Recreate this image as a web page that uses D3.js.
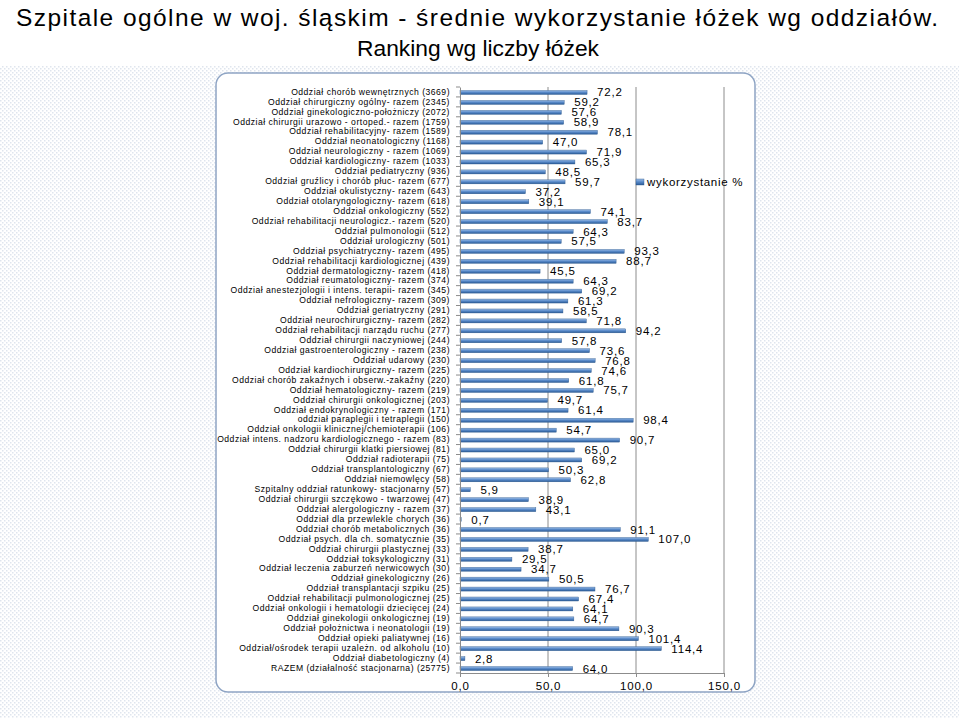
<!DOCTYPE html>
<html><head><meta charset="utf-8">
<script src="https://cdn.jsdelivr.net/npm/d3@7"></script>
<style>
html,body{margin:0;padding:0;background:#fff;}
svg{display:block;}
</style></head>
<body>
<svg id="chart" width="959" height="718"></svg>
<script>
const titleLines = ["Szpitale ogólne w woj. śląskim - średnie wykorzystanie łóżek wg oddziałów.", "Ranking wg liczby łóżek"];
const seriesName = "wykorzystanie %";
const categories = [
"Oddział chorób wewnętrznych (3669)",
"Oddział chirurgiczny ogólny- razem (2345)",
"Oddział ginekologiczno-położniczy (2072)",
"Oddział chirurgii urazowo - ortoped.- razem (1759)",
"Oddział rehabilitacyjny- razem (1589)",
"Oddział neonatologiczny (1168)",
"Oddział neurologiczny - razem (1069)",
"Oddział kardiologiczny- razem (1033)",
"Oddział pediatryczny (936)",
"Oddział gruźlicy i chorób płuc- razem (677)",
"Oddział okulistyczny- razem (643)",
"Oddział otolaryngologiczny- razem (618)",
"Oddział onkologiczny (552)",
"Oddział rehabilitacji neurologicz.- razem (520)",
"Oddział pulmonologii (512)",
"Oddział urologiczny (501)",
"Oddział psychiatryczny- razem (495)",
"Oddział rehabilitacji kardiologicznej (439)",
"Oddział dermatologiczny- razem (418)",
"Oddział reumatologiczny- razem (374)",
"Oddział anestezjologii i intens. terapii- razem (345)",
"Oddział nefrologiczny- razem (309)",
"Oddział geriatryczny (291)",
"Oddział neurochirurgiczny- razem (282)",
"Oddział rehabilitacji narządu ruchu (277)",
"Oddział chirurgii naczyniowej (244)",
"Oddział gastroenterologiczny - razem (238)",
"Oddział udarowy (230)",
"Oddział kardiochirurgiczny- razem (225)",
"Oddział chorób zakaźnych i obserw.-zakaźny (220)",
"Oddział hematologiczny- razem (219)",
"Oddział chirurgii onkologicznej (203)",
"Oddział endokrynologiczny - razem (171)",
"oddział paraplegii i tetraplegii (150)",
"Oddział onkologii klinicznej/chemioterapii (106)",
"Oddział intens. nadzoru kardiologicznego - razem (83)",
"Oddział chirurgii klatki piersiowej (81)",
"Oddział radioterapii (75)",
"Oddział transplantologiczny (67)",
"Oddział niemowlęcy (58)",
"Szpitalny oddział ratunkowy- stacjonarny (57)",
"Oddział chirurgii szczękowo - twarzowej (47)",
"Oddział alergologiczny - razem (37)",
"Oddział dla przewlekle chorych (36)",
"Oddział chorób metabolicznych (36)",
"Oddział psych. dla ch. somatycznie (35)",
"Oddział chirurgii plastycznej (33)",
"Oddział toksykologiczny (31)",
"Oddział leczenia zaburzeń nerwicowych (30)",
"Oddział ginekologiczny (26)",
"Oddział transplantacji szpiku (25)",
"Oddział rehabilitacji pulmonologicznej (25)",
"Oddział onkologii i hematologii dziecięcej (24)",
"Oddział ginekologii onkologicznej (19)",
"Oddział położnictwa i neonatologii (19)",
"Oddział opieki paliatywnej (16)",
"Oddział/ośrodek terapii uzależn. od alkoholu (10)",
"Oddział diabetologiczny (4)",
"RAZEM (działalność stacjonarna) (25775)"
];
const values = [72.2,59.2,57.6,58.9,78.1,47.0,71.9,65.3,48.5,59.7,37.2,39.1,74.1,83.7,64.3,57.5,93.3,88.7,45.5,64.3,69.2,61.3,58.5,71.8,94.2,57.8,73.6,76.8,74.6,61.8,75.7,49.7,61.4,98.4,54.7,90.7,65.0,69.2,50.3,62.8,5.9,38.9,43.1,0.7,91.1,107.0,38.7,29.5,34.7,50.5,76.7,67.4,64.1,64.7,90.3,101.4,114.4,2.8,64.0];
const xTicks = [0,50,100,150];

const svg = d3.select("#chart");
const W = 959, H = 718;
const FONT = "Liberation Sans, Arial, sans-serif";
const defs = svg.append("defs");
const pat = defs.append("pattern").attr("id","dots").attr("width",4).attr("height",4).attr("patternUnits","userSpaceOnUse");
pat.append("rect").attr("width",4).attr("height",4).attr("fill","#ffffff");
pat.append("rect").attr("x",0).attr("y",0).attr("width",1.5).attr("height",1.5).attr("fill","#dfe5ee");
pat.append("rect").attr("x",2).attr("y",2).attr("width",1.5).attr("height",1.5).attr("fill","#dfe5ee");

const grad = defs.append("linearGradient").attr("id","barGrad").attr("x1",0).attr("y1",0).attr("x2",0).attr("y2",1);
grad.append("stop").attr("offset","0%").attr("stop-color","#9dbde6");
grad.append("stop").attr("offset","45%").attr("stop-color","#5b8ccb");
grad.append("stop").attr("offset","100%").attr("stop-color","#2b5b97");

svg.append("rect").attr("x",0).attr("y",0).attr("width",W).attr("height",H).attr("fill","#fff");
svg.append("rect").attr("x",0).attr("y",66).attr("width",W).attr("height",H-66).attr("fill","url(#dots)");

// title
svg.append("text")
  .attr("x",477).attr("y",26)
  .attr("text-anchor","middle")
  .attr("font-family",FONT).attr("font-size",24.5).attr("fill","#000")
  .attr("textLength",922).attr("lengthAdjust","spacing")
  .text(titleLines[0]);
svg.append("text")
  .attr("x",478).attr("y",56)
  .attr("text-anchor","middle")
  .attr("font-family",FONT).attr("font-size",22.8).attr("fill","#000")
  .text(titleLines[1]);

// chart area
svg.append("rect").attr("x",216).attr("y",73).attr("width",539).attr("height",619)
  .attr("rx",12).attr("ry",12).attr("fill","#fff").attr("stroke","#8ea4c4").attr("stroke-width",1.5);

const margin = {left:460, right:724, top:87, bottom:673};
const x = d3.scaleLinear().domain([0,150]).range([margin.left, margin.right]);
const y = d3.scaleBand().domain(categories).range([margin.top, margin.bottom]);

// gridlines
svg.append("g").selectAll("line").data(xTicks.slice(1)).enter().append("line")
  .attr("x1",d=>x(d)).attr("x2",d=>x(d)).attr("y1",margin.top).attr("y2",margin.bottom)
  .attr("stroke","#8c8c8c").attr("stroke-width",1);

// bars
const bh = 4;
svg.append("g").selectAll("rect").data(values).enter().append("rect")
  .attr("x",x(0)).attr("y",(d,i)=>y(categories[i])+y.bandwidth()/2-bh/2+0.5)
  .attr("width",d=>x(d)-x(0)).attr("height",bh)
  .attr("fill","url(#barGrad)").attr("stroke","#2e5a8e").attr("stroke-width",0.4);

// value labels
svg.append("g").selectAll("text").data(values).enter().append("text")
  .attr("x",d=>x(d)+10).attr("y",(d,i)=>y(categories[i])+y.bandwidth()/2+1.5)
  .attr("dominant-baseline","middle")
  .attr("font-family",FONT)
  .attr("font-size",11.5).attr("letter-spacing",0.8).attr("fill","#000")
  .text(d=>d3.format(".1f")(d).replace(".",","));

// y axis
const yAxis = d3.axisLeft(y).tickSize(0).tickPadding(10);
const gy = svg.append("g").attr("transform",`translate(${margin.left},0)`).call(yAxis);
gy.select(".domain").attr("stroke","#8c8c8c");
gy.selectAll("text").attr("font-family",FONT).attr("font-size",8.6).attr("letter-spacing",0.5).attr("fill","#000");
svg.append("g").selectAll("line").data(d3.range(categories.length+1)).enter().append("line")
  .attr("x1",margin.left-4).attr("x2",margin.left)
  .attr("y1",i=>margin.top+i*y.step()).attr("y2",i=>margin.top+i*y.step())
  .attr("stroke","#8c8c8c");

// x axis
const xAxis = d3.axisBottom(x).tickValues(xTicks).tickSize(4).tickPadding(5).tickFormat(d=>d3.format(".1f")(d).replace(".",","));
const gx = svg.append("g").attr("transform",`translate(0,${margin.bottom})`).call(xAxis);
gx.select(".domain").attr("stroke","#8c8c8c");
gx.selectAll("line").attr("stroke","#8c8c8c");
gx.selectAll("text").attr("font-family",FONT).attr("font-size",11.5).attr("letter-spacing",0.8).attr("fill","#000");

// legend
const lg = svg.append("g").attr("transform","translate(636,182)");
lg.append("rect").attr("x",0).attr("y",-3).attr("width",8).attr("height",6).attr("fill","url(#barGrad)").attr("stroke","#2e5a8e").attr("stroke-width",0.4);
lg.append("text").attr("x",11).attr("y",0.5).attr("dominant-baseline","middle")
  .attr("font-family",FONT).attr("font-size",11.5).attr("letter-spacing",0.7).text(seriesName);
</script>
</body></html>
